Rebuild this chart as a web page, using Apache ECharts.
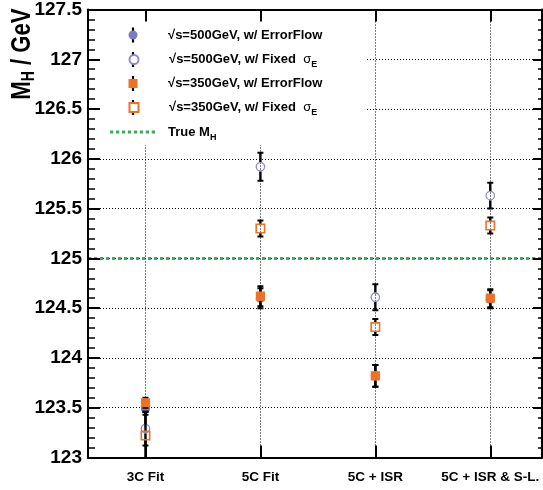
<!DOCTYPE html>
<html><head><meta charset="utf-8">
<script src="https://cdn.jsdelivr.net/npm/echarts@6/dist/echarts.min.js"></script>
<style>html,body{margin:0;padding:0;background:#fff}#c{width:543px;height:490px}</style>
</head><body><div id="c"></div>
<script>
// ---- data ----
const categories = ['3C Fit', '5C Fit', '5C + ISR', '5C + ISR & S-L.'];
const catPos = [0, 1, 2, 3];
const ef500 = [123.49, 124.60, 123.82, 124.59];
const ef500Err = [0.06, 0.10, 0.11, 0.09];
const fixed500 = [123.29, 125.92, 124.61, 125.63];
const fixed500Err = [0.17, 0.14, 0.13, 0.13];
const ef350 = [123.55, 124.62, 123.82, 124.60];
const ef350Err = [0.05, 0.10, 0.11, 0.09];
const fixed350 = [123.22, 125.30, 124.31, 125.33];
const fixed350Err = [0.24, 0.08, 0.08, 0.08];
const trueMH = 125;
const yMin = 123, yMax = 127.5, yStep = 0.5;
const xMin = -0.5, xMax = 3.45;

// ---- style ----
const SANS = '"Liberation Sans", Arial, Helvetica, sans-serif';
const PURPLE = '#7c7cc4';
const PURPLE_OPEN = '#8c8cd2';
const ORANGE = '#ee7124';
const GREEN = '#3dab5e';
const DASHED_ICON = 'path://M0,0h33v30h-33z M60,0h33v30h-33z M120,0h33v30h-33z M180,0h33v30h-33z M240,0h33v30h-33z M300,0h33v30h-33z M360,0h33v30h-33z M420,0h33v30h-33z';

function pts(vals, errs) { return catPos.map((c, i) => [c, vals[i], errs[i]]); }

function makeRender(kind, color) {
  return function (params, api) {
    const x = api.value(0), y = api.value(1), e = api.value(2);
    const p = api.coord([x, y]);
    const hi = api.coord([x, y + e]);
    const lo = api.coord([x, y - e]);
    const r = 4.5, cap = 3;
    const ls = { stroke: '#000', lineWidth: 2.4 };
    const cs = { stroke: '#000', lineWidth: 2 };
    const ch = [];
    if (hi[1] < p[1] - r) {
      ch.push({ type: 'line', shape: { x1: p[0], y1: p[1] - r, x2: p[0], y2: hi[1] }, style: ls });
      ch.push({ type: 'line', shape: { x1: p[0] - cap, y1: hi[1], x2: p[0] + cap, y2: hi[1] }, style: cs });
    }
    if (lo[1] > p[1] + r) {
      ch.push({ type: 'line', shape: { x1: p[0], y1: p[1] + r, x2: p[0], y2: lo[1] }, style: ls });
      ch.push({ type: 'line', shape: { x1: p[0] - cap, y1: lo[1], x2: p[0] + cap, y2: lo[1] }, style: cs });
    }
    if (kind === 'circle') ch.push({ type: 'circle', shape: { cx: p[0], cy: p[1], r: 4.6 }, style: { fill: color } });
    if (kind === 'emptyCircle') ch.push({ type: 'circle', shape: { cx: p[0], cy: p[1], r: 4.2 }, style: { fill: 'none', stroke: color, lineWidth: 1.3 } });
    if (kind === 'rect') ch.push({ type: 'rect', shape: { x: p[0] - 4.6, y: p[1] - 4.6, width: 9.2, height: 9.2 }, style: { fill: color } });
    if (kind === 'emptyRect') ch.push({ type: 'rect', shape: { x: p[0] - 4.2, y: p[1] - 4.2, width: 8.4, height: 8.4 }, style: { fill: 'none', stroke: color, lineWidth: 1.6 } });
    return { type: 'group', children: ch };
  };
}

const labelMap = {
  ef500: '{t|√s=500GeV, w/ ErrorFlow}',
  fixed500: '{t|√s=500GeV, w/ Fixed  }{g|σ}{s|E}',
  ef350: '{t|√s=350GeV, w/ ErrorFlow}',
  fixed350: '{t|√s=350GeV, w/ Fixed  }{g|σ}{s|E}',
  trueMH: '{t|True M}{s|H}'
};
const rich = {
  t: { fontFamily: SANS, fontWeight: 'bold', fontSize: 13, lineHeight: 20, verticalAlign: 'middle', color: '#000' },
  g: { fontFamily: SANS, fontWeight: 'normal', fontSize: 13, lineHeight: 20, verticalAlign: 'middle', color: '#000' },
  s: { fontFamily: SANS, fontWeight: 'bold', fontSize: 9, lineHeight: 20, verticalAlign: 'bottom', color: '#000' }
};
const rowY = [35, 59.5, 83.5, 107.5, 132];
const legendDefs = [
  { name: 'ef500', icon: 'circle', itemStyle: { color: PURPLE } },
  { name: 'fixed500', icon: 'emptyCircle', itemStyle: { color: PURPLE_OPEN } },
  { name: 'ef350', icon: 'rect', itemStyle: { color: ORANGE } },
  { name: 'fixed350', icon: 'emptyRect', itemStyle: { color: ORANGE } }
];
const legends = legendDefs.map((d, i) => ({
  show: true, orient: 'vertical', left: 128.5, top: rowY[i] - 10, padding: 0,
  itemWidth: 9, itemHeight: 9, selectedMode: false, z: 6,
  data: [d],
  formatter: n => labelMap[n],
  textStyle: { padding: [0, 0, 0, 25.5], rich: rich, fontFamily: SANS, fontWeight: 'bold', fontSize: 13, lineHeight: 20 }
}));
legends.push({
  show: true, orient: 'vertical', left: 110, top: rowY[4] - 10, padding: 0,
  itemWidth: 45, itemHeight: 3, selectedMode: false, z: 6,
  data: [{ name: 'trueMH', icon: DASHED_ICON, itemStyle: { color: GREEN, borderWidth: 0 } }],
  formatter: n => labelMap[n],
  textStyle: { padding: [0, 0, 0, 8], rich: rich, fontFamily: SANS, fontWeight: 'bold', fontSize: 13, lineHeight: 20 }
});

const legendBars = rowY.slice(0, 4).map(y => ({
  type: 'line', z: 5, shape: { x1: 133, y1: y - 7.5, x2: 133, y2: y + 7.5 }, style: { stroke: '#000', lineWidth: 2.2 }
}));

const gridLine = { show: true, lineStyle: { color: '#000', width: 1, type: [1, 2] } };

const option = {
  animation: false,
  backgroundColor: '#fff',
  grid: { left: 88, right: 1, top: 7.5, bottom: 32.5 },
  legend: legends,
  graphic: [
    { type: 'rect', z: 1, shape: { x: 100, y: 9, width: 267, height: 136 }, style: { fill: '#fff' } },
    ...legendBars,
    {
      type: 'text', x: 22, y: 54, rotation: Math.PI / 2, scaleX: 0.82, scaleY: 1.05, z: 5,
      style: {
        text: '{a|M}{b|H}{a| / GeV}', align: 'center', verticalAlign: 'middle', fill: '#000',
        rich: {
          a: { fontFamily: SANS, fontWeight: 'bold', fontSize: 27, lineHeight: 30, verticalAlign: 'middle', fill: '#000' },
          b: { fontFamily: SANS, fontWeight: 'bold', fontSize: 17, lineHeight: 30, verticalAlign: 'bottom', fill: '#000' }
        }
      }
    }
  ],
  xAxis: [
    {
      type: 'value', min: xMin, max: xMax, position: 'bottom', z: 3,
      axisLine: { show: true, onZero: false, lineStyle: { color: '#000', width: 2 } },
      axisTick: { show: true, inside: true, length: 12, customValues: catPos, lineStyle: { color: '#000', width: 2 } },
      axisLabel: { customValues: catPos, formatter: v => categories[Math.round(v)], color: '#000', fontFamily: SANS, fontWeight: 'bold', fontSize: 13.5, margin: 13 },
      splitLine: { show: false }
    },
    {
      type: 'value', min: xMin, max: xMax, position: 'top', z: 3,
      axisLine: { show: true, onZero: false, lineStyle: { color: '#000', width: 2 } },
      axisTick: { show: true, inside: true, length: 12, customValues: catPos, lineStyle: { color: '#000', width: 2 } },
      axisLabel: { show: false },
      splitLine: { show: false }
    },
    {
      type: 'value', min: xMin, max: xMax, position: 'bottom', z: 0,
      axisLine: { show: false }, axisTick: { show: false, customValues: catPos }, axisLabel: { show: false },
      splitLine: gridLine
    }
  ],
  yAxis: [
    {
      type: 'value', min: yMin, max: yMax, interval: yStep, position: 'left', z: 3,
      axisLine: { show: true, onZero: false, lineStyle: { color: '#000', width: 2 } },
      axisTick: { show: true, inside: true, length: 12, lineStyle: { color: '#000', width: 2 } },
      minorTick: { show: true, splitNumber: 5, length: 7, lineStyle: { color: '#000', width: 1.5 } },
      axisLabel: { color: '#000', fontFamily: SANS, fontWeight: 'bold', fontSize: 19, margin: 6, formatter: v => String(v) },
      splitLine: { show: false }
    },
    {
      type: 'value', min: yMin, max: yMax, interval: yStep, position: 'right', z: 3,
      axisLine: { show: true, onZero: false, lineStyle: { color: '#000', width: 2 } },
      axisTick: { show: true, inside: true, length: 9, lineStyle: { color: '#000', width: 2 } },
      minorTick: { show: true, splitNumber: 5, length: 4, lineStyle: { color: '#000', width: 1.5 } },
      axisLabel: { show: false },
      splitLine: { show: false }
    },
    {
      type: 'value', min: yMin, max: yMax, interval: yStep, position: 'left', z: 0,
      axisLine: { show: false }, axisTick: { show: false }, axisLabel: { show: false },
      splitLine: gridLine
    }
  ],
  series: [
    { name: 'trueMH', type: 'line', xAxisIndex: 0, yAxisIndex: 0, z: 2, silent: true, symbol: 'none',
      data: [[xMin, trueMH], [xMax, trueMH]], lineStyle: { color: GREEN, width: 3, type: [3.3, 2.7] }, itemStyle: { color: GREEN } },
    { name: 'ef500', type: 'custom', xAxisIndex: 0, yAxisIndex: 0, z: 2, clip: true, renderItem: makeRender('circle', PURPLE), data: pts(ef500, ef500Err) },
    { name: 'fixed500', type: 'custom', xAxisIndex: 0, yAxisIndex: 0, z: 2, clip: true, renderItem: makeRender('emptyCircle', PURPLE_OPEN), data: pts(fixed500, fixed500Err) },
    { name: 'ef350', type: 'custom', xAxisIndex: 0, yAxisIndex: 0, z: 2, clip: true, renderItem: makeRender('rect', ORANGE), data: pts(ef350, ef350Err) },
    { name: 'fixed350', type: 'custom', xAxisIndex: 0, yAxisIndex: 0, z: 2, clip: true, renderItem: makeRender('emptyRect', ORANGE), data: pts(fixed350, fixed350Err) }
  ]
};
const chart = echarts.init(document.getElementById('c'), null, { renderer: 'canvas' });
chart.setOption(option);
</script>
</body></html>
